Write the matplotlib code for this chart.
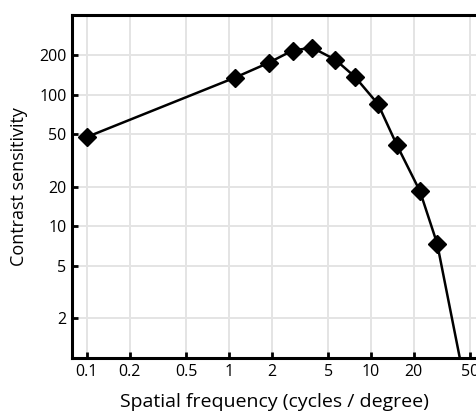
import numpy as np
import matplotlib
matplotlib.use("Agg")
import matplotlib.pyplot as plt
from matplotlib.ticker import FixedLocator, FixedFormatter, NullLocator

plt.rcParams['font.family'] = ['Open Sans', 'DejaVu Sans']

# contrast sensitivity function
freq = [0.1, 1.1, 1.9, 2.8, 3.85, 5.6, 7.7, 11.2, 15.2, 22.1, 29.2, 45.0]
sensitivity = [47.8, 135, 175, 217, 228, 185, 137, 85, 41.5, 18.5, 7.4, 0.7]

x_ticks = [0.1, 0.2, 0.5, 1, 2, 5, 10, 20, 50]
x_tick_labels = ["0.1", "0.2", "0.5", "1", "2", "5", "10", "20", "50"]
y_ticks = [2, 5, 10, 20, 50, 100, 200]
y_tick_labels = ["2", "5", "10", "20", "50", "100", "200"]

fig = plt.figure(figsize=(4.76, 4.12), dpi=100)
ax = fig.add_axes([72 / 476, 54 / 412, 404 / 476, 343 / 412])

ax.plot(freq, sensitivity, color="black", lw=1.8, marker="D", ms=9,
        markeredgecolor="black", zorder=3)

ax.set_xscale("log")
ax.set_yscale("log")
ax.set_xlim(0.0785, 54.8)
ax.set_ylim(1, 404)

ax.xaxis.set_major_locator(FixedLocator(x_ticks))
ax.xaxis.set_major_formatter(FixedFormatter(x_tick_labels))
ax.xaxis.set_minor_locator(NullLocator())
ax.yaxis.set_major_locator(FixedLocator(y_ticks))
ax.yaxis.set_major_formatter(FixedFormatter(y_tick_labels))
ax.yaxis.set_minor_locator(NullLocator())

ax.grid(True, color="#e4e4e4", lw=1.4)
ax.set_axisbelow(True)

for side in ["left", "bottom", "top"]:
    ax.spines[side].set_linewidth(2.2)
ax.spines["right"].set_visible(False)

ax.tick_params(direction="in", length=4, width=2, labelsize=11.5, pad=4)

ax.set_xlabel("Spatial frequency (cycles / degree)", fontsize=14, labelpad=10)
ax.set_ylabel("Contrast sensitivity", fontsize=13, labelpad=8)

fig.savefig("out.png", dpi=100)
